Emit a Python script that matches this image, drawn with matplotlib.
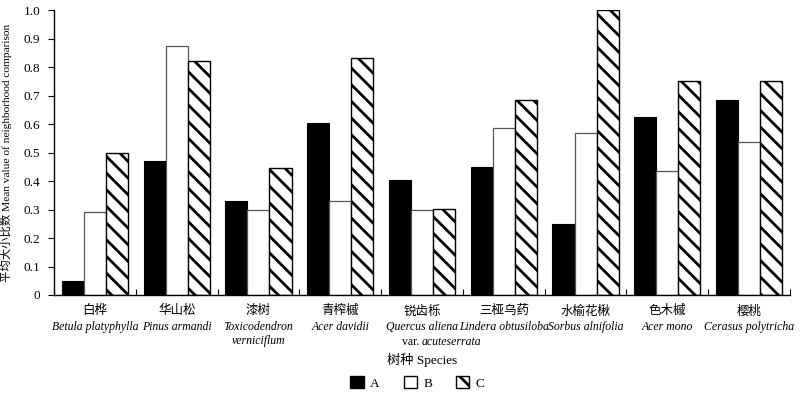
import numpy as np
import matplotlib
matplotlib.use("Agg")
import matplotlib.pyplot as plt
from matplotlib.patches import Patch

plt.rcParams['font.family'] = ['Liberation Serif', 'Noto Sans CJK SC']
plt.rcParams['hatch.linewidth'] = 2.0

cn_names = ['白桦', '华山松', '漆树', '青榨槭', '锐齿栎', '三桠乌药', '水榆花楸', '色木槭', '樱桃']
latin = ['Betula platyphylla', 'Pinus armandi', 'Toxicodendron\nverniciflum', 'Acer davidii',
         'Quercus aliena', 'Lindera obtusiloba', 'Sorbus alnifolia', 'Acer mono', 'Cerasus polytricha']
val_a = [0.05, 0.47, 0.33, 0.605, 0.405, 0.45, 0.25, 0.625, 0.685]
val_b = [0.29, 0.875, 0.297, 0.33, 0.297, 0.585, 0.567, 0.435, 0.537]
val_c = [0.497, 0.82, 0.447, 0.833, 0.302, 0.685, 1.0, 0.75, 0.75]
yticks = [0, 0.1, 0.2, 0.3, 0.4, 0.5, 0.6, 0.7, 0.8, 0.9, 1.0]
ylabels = ['0', '0.1', '0.2', '0.3', '0.4', '0.5', '0.6', '0.7', '0.8', '0.9', '1.0']

fig = plt.figure(figsize=(8, 3.98), dpi=100)
ax = fig.add_axes([0.0675, 0.2588, 0.92, 0.716])

x = np.arange(len(cn_names))
w = 0.27
ax.bar(x - w, val_a, w, color='black', edgecolor='black', linewidth=0.8)
ax.bar(x, val_b, w, color='white', edgecolor='#555555', linewidth=0.9)
ax.bar(x + w, val_c, w, color='white', edgecolor='black', linewidth=1.0, hatch='\\\\')

ax.set_xlim(-0.5, len(cn_names) - 0.5)
ax.set_ylim(0, 1.0)
ax.set_yticks(yticks)
ax.set_yticklabels(ylabels, fontsize=9.5)
ax.tick_params(axis='y', direction='out', length=4, width=0.8, pad=6)
ax.set_xticks(np.arange(len(cn_names) + 1) - 0.5)
ax.set_xticklabels([])
ax.tick_params(axis='x', direction='in', length=4, width=0.8)
for s in ['top', 'right']:
    ax.spines[s].set_visible(False)
for s in ['left', 'bottom']:
    ax.spines[s].set_linewidth(1.0)

tr = ax.get_xaxis_transform()
for i in range(len(cn_names)):
    ax.text(i, -0.056, cn_names[i], transform=tr, ha='center', va='center', fontsize=9,
            family='Noto Sans CJK SC')
    ax.text(i, -0.09, latin[i], transform=tr, ha='center', va='top', fontsize=8.5,
            style='italic', linespacing=1.3)
ax.text(4, -0.165, 'var. ', transform=tr, ha='right', va='center', fontsize=8.5)
ax.text(4, -0.165, 'acuteserrata', transform=tr, ha='left', va='center', fontsize=8.5,
        style='italic')
ax.text(4, -0.228, '树种 Species', transform=tr, ha='center', va='center', fontsize=9.5)

ax.set_ylabel('平均大小比数 Mean value of neighborhood comparison', fontsize=8.2, labelpad=8)

handles = [Patch(facecolor='black', edgecolor='black'),
           Patch(facecolor='white', edgecolor='black'),
           Patch(facecolor='white', edgecolor='black', hatch='\\\\')]
fig.legend(handles, ['A', 'B', 'C'], loc='center', bbox_to_anchor=(0.522, 0.038), ncol=3,
           frameon=False, fontsize=9.5, handlelength=1.0, handleheight=1.0,
           columnspacing=1.8, handletextpad=0.5)

fig.savefig('out.png', dpi=100)
